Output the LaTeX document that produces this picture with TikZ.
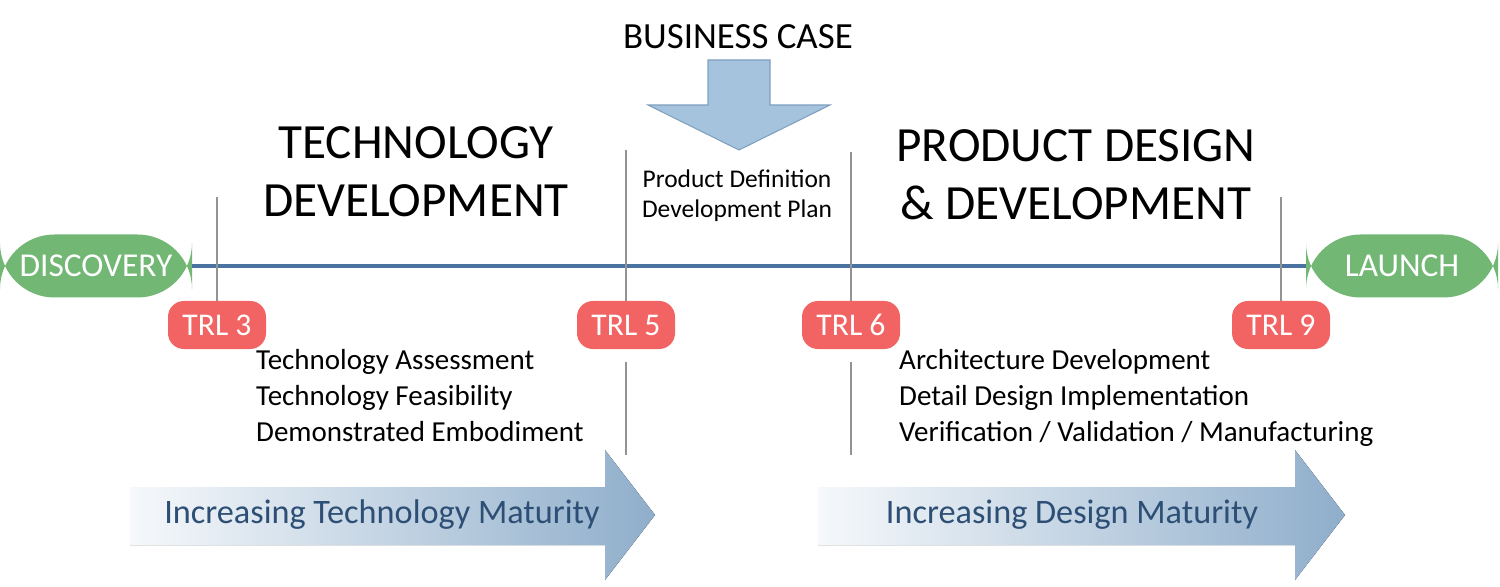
\documentclass[tikz,border=0pt]{standalone}
\usepackage{fontspec}
\setmainfont{Carlito}
\usetikzlibrary{arrows.meta}
\usetikzlibrary{calc}
\definecolor{pillgreen}{HTML}{72B774}
\definecolor{trlred}{HTML}{F26464}
\definecolor{lineblue}{HTML}{4A73A0}
\definecolor{casefill}{HTML}{A6C3DE}
\definecolor{caseedge}{HTML}{7F9FBF}
\definecolor{matblue}{HTML}{8FAECB}
\definecolor{mattext}{HTML}{2E4F75}
\tikzset{
  pill/.style={fill=pillgreen, text=white, rounded corners=31, minimum width=192*0.02cm, minimum height=63*0.02cm, font=\fontsize{19}{22}\selectfont},
  trl/.style={fill=trlred, text=white, rounded corners=9, minimum width=98*0.02cm, minimum height=48*0.02cm, font=\fontsize{18}{21}\selectfont},
  tick/.style={draw=gray!85, line width=1.6pt},
  heading/.style={align=center, font=\fontsize{28}{33}\selectfont},
  steps/.style={align=left, anchor=north west, font=\fontsize{16.5}{20.5}\selectfont},
  maturity/.style={left color=white!92!matblue, right color=matblue, draw=none},
  matlabel/.style={text=mattext, font=\fontsize{19.5}{23}\selectfont}
}
\begin{document}
\begin{tikzpicture}[x=0.02cm, y=-0.02cm]
                \useasboundingbox (0,0) rectangle (1500,587);
                % timeline
                \node[pill] (disc) at (96,266) {DISCOVERY};
                \node[pill] (launch) at (1402,266) {LAUNCH};
                \draw[lineblue, line width=1.8pt] (disc.east) -- (launch.west);
                % gates
                \node[trl] (t3) at (217,325) {TRL 3};
                \node[trl] (t5) at (626,325) {TRL 5};
                \node[trl] (t6) at (851,325) {TRL 6};
                \node[trl] (t9) at (1281,325) {TRL 9};
                \coordinate (u3) at (217,197);
                \coordinate (u5) at (626,150);
                \coordinate (u6) at (851,152);
                \coordinate (u9) at (1281,197);
                \draw[tick] (u3) -- (t3.north);
                \draw[tick] (u5) -- (t5.north);
                \draw[tick] (u6) -- (t6.north);
                \draw[tick] (u9) -- (t9.north);
                \coordinate (d5) at (626,455);
                \coordinate (d6) at (851,455);
                \draw[tick] ($(t5.south)+(0,13)$) -- (d5);
                \draw[tick] ($(t6.south)+(0,13)$) -- (d6);
                % business case
                \node[font=\fontsize{21}{25}\selectfont] (bcase) at (738,37) {BUSINESS CASE};
                \draw[fill=casefill, draw=caseedge, line width=0.6pt]
                    (708,60) -- (770,60) -- (770,105) -- (830,105) -- (739,150)
                    -- (648,105) -- (708,105) -- cycle;
                \node[align=center, font=\fontsize{14.5}{17}\selectfont] (pdef) at (737,196)
                    {Product Definition\\Development Plan};
                % phases
                \node[heading] (tech) at (416,172) {TECHNOLOGY\\DEVELOPMENT};
                \node[heading] (prod) at (1076,175) {PRODUCT DESIGN\\\& DEVELOPMENT};
                \node[steps] (tsteps) at (250,343)
                    {Technology Assessment\\Technology Feasibility\\Demonstrated Embodiment};
                \node[steps] (psteps) at (893,343)
                    {Architecture Development\\Detail Design Implementation\\Verification / Validation / Manufacturing};
                % maturity arrows
                \fill[maturity] (130,487) -- (605,487) -- (605,450) -- (655,515)
                    -- (605,580) -- (605,545) -- (130,545) -- cycle;
                \fill[maturity] (818,487) -- (1295,487) -- (1295,450) -- (1345,515)
                    -- (1295,580) -- (1295,545) -- (818,545) -- cycle;
                \node[matlabel] (tmat) at (382,515) {Increasing Technology Maturity};
                \node[matlabel] (dmat) at (1072,515) {Increasing Design Maturity};
\end{tikzpicture}
\end{document}
